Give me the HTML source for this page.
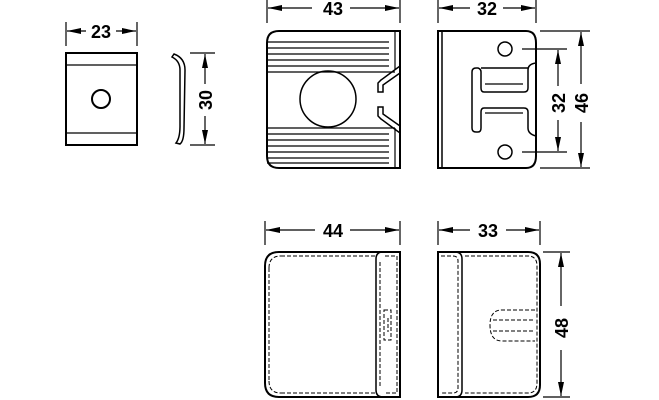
<!DOCTYPE html>
<html><head><meta charset="utf-8"><style>
html,body{margin:0;padding:0;background:#fff;}
svg{display:block;}
text{font-family:"Liberation Sans",sans-serif;font-weight:bold;font-size:18px;fill:#000;}
</style></head><body>
<svg width="659" height="400" viewBox="0 0 659 400" xmlns="http://www.w3.org/2000/svg">
<defs>
<marker id="a" viewBox="0 0 14 6" refX="14" refY="3" markerWidth="14" markerHeight="6" orient="auto-start-reverse" markerUnits="userSpaceOnUse"><path d="M0,0 L14,3 L0,6 Z" fill="#000"/></marker>
</defs>
<g stroke="#000" fill="none" stroke-width="1.2">
<!-- 23 dim -->
<line x1="66" y1="22" x2="66" y2="46"/><line x1="137" y1="22" x2="137" y2="46"/>
<line x1="67" y1="31" x2="86" y2="31" marker-start="url(#a)"/><line x1="116" y1="31" x2="136" y2="31" marker-end="url(#a)"/>
<!-- small plate -->
<rect x="66" y="53" width="71" height="92" stroke-width="2"/>
<line x1="66" y1="65" x2="137" y2="65"/><line x1="66" y1="133" x2="137" y2="133"/>
<circle cx="101" cy="99" r="9" stroke-width="2"/>
<!-- curved side -->
<path d="M174,54 Q185,58 185,70 L184,128 Q184,141 180,144 L176,143 Q180,138 180,126 L180,70 Q180,61 172,57 Z" stroke-width="1.5"/>
<line x1="190" y1="53" x2="215" y2="53"/><line x1="190" y1="145" x2="215" y2="145"/>
<line x1="205" y1="54" x2="205" y2="84" marker-start="url(#a)"/><line x1="205" y1="116" x2="205" y2="144" marker-end="url(#a)"/>
<!-- 43 dim -->
<line x1="267" y1="0" x2="267" y2="23"/><line x1="400" y1="0" x2="400" y2="23"/>
<line x1="268" y1="8" x2="312" y2="8" marker-start="url(#a)"/><line x1="350" y1="8" x2="399" y2="8" marker-end="url(#a)"/>
<!-- 43 view -->
<path d="M279,31 L400,31 L400,168 L279,168 Q267,168 267,156 L267,43 Q267,31 279,31 Z" stroke-width="2"/>
<line x1="395" y1="31" x2="395" y2="70"/><line x1="395" y1="128" x2="395" y2="168"/>
<g>
<line x1="267" y1="42" x2="389" y2="42"/><line x1="267" y1="48" x2="389" y2="48"/><line x1="267" y1="54" x2="389" y2="54"/><line x1="267" y1="60" x2="389" y2="60"/><line x1="267" y1="66" x2="389" y2="66"/>
<line x1="267" y1="72" x2="395" y2="72"/>
<line x1="267" y1="128" x2="395" y2="128"/>
<line x1="267" y1="134" x2="389" y2="134"/><line x1="267" y1="140" x2="389" y2="140"/><line x1="267" y1="146" x2="389" y2="146"/><line x1="267" y1="152" x2="389" y2="152"/><line x1="267" y1="158" x2="389" y2="158"/><line x1="267" y1="163" x2="389" y2="163"/>
</g>
<circle cx="328" cy="99" r="28" stroke-width="1.5"/>
<path d="M400,66 L381,80 L378,83 L378,92 L383,92 L383,85 L400,73" stroke-width="1.5"/>
<path d="M400,133 L381,119 L378,116 L378,107 L383,107 L383,114 L400,126" stroke-width="1.5"/>
<!-- 32 top dim -->
<line x1="438" y1="0" x2="438" y2="23"/><line x1="536" y1="0" x2="536" y2="23"/>
<line x1="439" y1="8" x2="470" y2="8" marker-start="url(#a)"/><line x1="503" y1="8" x2="535" y2="8" marker-end="url(#a)"/>
<!-- 32 view -->
<path d="M438,31 L526,31 Q536,31 536,43 L536,156 Q536,168 526,168 L438,168 Z" stroke-width="2"/>
<line x1="442" y1="31" x2="442" y2="168" stroke-width="1.5"/>
<circle cx="505" cy="49" r="7" stroke-width="1.5"/>
<circle cx="505" cy="152" r="7" stroke-width="1.5"/>
<path d="M536,63 Q528,64 528,70 L528,88 Q528,92 524,92 L484,92 Q481,92 481,88 L481,72 Q481,69 478,68 L476,68 Q472,68 472,72 L472,128 Q472,132 476,132 L478,132 Q481,132 481,128 L481,112 Q481,108 484,108 L524,108 Q528,108 528,112 L528,128 Q528,134 536,136" stroke-width="1.5"/>
<line x1="481" y1="68" x2="528" y2="68" stroke-width="1.5"/>
<line x1="485" y1="84" x2="523" y2="84"/><line x1="485" y1="113" x2="523" y2="113"/>
<line x1="522" y1="49" x2="567" y2="49"/><line x1="522" y1="152" x2="567" y2="152"/>
<line x1="558" y1="50" x2="558" y2="86" marker-start="url(#a)"/><line x1="558" y1="120" x2="558" y2="151" marker-end="url(#a)"/>
<line x1="540" y1="31" x2="590" y2="31"/><line x1="540" y1="168" x2="590" y2="168"/>
<line x1="581" y1="32" x2="581" y2="84" marker-start="url(#a)"/><line x1="581" y1="122" x2="581" y2="167" marker-end="url(#a)"/>
<!-- 44 dim -->
<line x1="265" y1="221" x2="265" y2="245"/><line x1="400" y1="221" x2="400" y2="245"/>
<line x1="266" y1="230" x2="315" y2="230" marker-start="url(#a)"/><line x1="350" y1="230" x2="399" y2="230" marker-end="url(#a)"/>
<!-- 44 view -->
<path d="M279,252 L400,252 L400,397 L279,397 Q265,397 265,383 L265,266 Q265,252 279,252 Z" stroke-width="2"/>
<path d="M383,252 Q376,252 376,259 L376,390 Q376,397 383,397" stroke-width="1.5"/>
<g stroke-dasharray="4,2" stroke-width="1">
<path d="M281,256 L376,256 M281,393 L376,393 M269,268 L269,381 M269,268 Q269,256 281,256 M269,381 Q269,393 281,393"/>
<path d="M385,256 L397,256 L397,393 L385,393 M380,262 L380,388"/>
<path d="M384,310 L391,310 L391,340 L384,340 Z M388,318 L388,332"/>
</g>
<!-- 33 dim -->
<line x1="438" y1="221" x2="438" y2="245"/><line x1="540" y1="221" x2="540" y2="245"/>
<line x1="439" y1="230" x2="470" y2="230" marker-start="url(#a)"/><line x1="506" y1="230" x2="539" y2="230" marker-end="url(#a)"/>
<!-- 33 view -->
<path d="M438,252 L528,252 Q540,252 540,264 L540,385 Q540,397 528,397 L438,397 Z" stroke-width="2"/>
<path d="M455,252 Q462,252 462,259 L462,390 Q462,397 455,397" stroke-width="1.5"/>
<g stroke-dasharray="4,2" stroke-width="1">
<path d="M465,256 L528,256 Q537,256 537,266 L537,383 Q537,393 528,393 L465,393"/>
<path d="M441,256 L453,256 Q458,256 458,261 L458,388 Q458,393 453,393 L441,393"/>
<path d="M535,310 L502,310 Q490,310 490,325 Q490,341 502,341 L535,341 M493,320 L535,320 M493,331 L535,331"/>
</g>
<line x1="543" y1="252" x2="570" y2="252"/><line x1="543" y1="397" x2="570" y2="397"/>
<line x1="561" y1="253" x2="561" y2="306" marker-start="url(#a)"/><line x1="561" y1="350" x2="561" y2="396" marker-end="url(#a)"/>
</g>
<text x="101" y="38" text-anchor="middle">23</text>
<text x="333" y="15" text-anchor="middle">43</text>
<text x="487" y="15" text-anchor="middle">32</text>
<text x="333" y="237" text-anchor="middle">44</text>
<text x="488" y="237" text-anchor="middle">33</text>
<text transform="translate(212,100) rotate(-90)" text-anchor="middle">30</text>
<text transform="translate(565,103) rotate(-90)" text-anchor="middle">32</text>
<text transform="translate(588,103) rotate(-90)" text-anchor="middle">46</text>
<text transform="translate(568,328) rotate(-90)" text-anchor="middle">48</text>
</svg>
</body></html>
